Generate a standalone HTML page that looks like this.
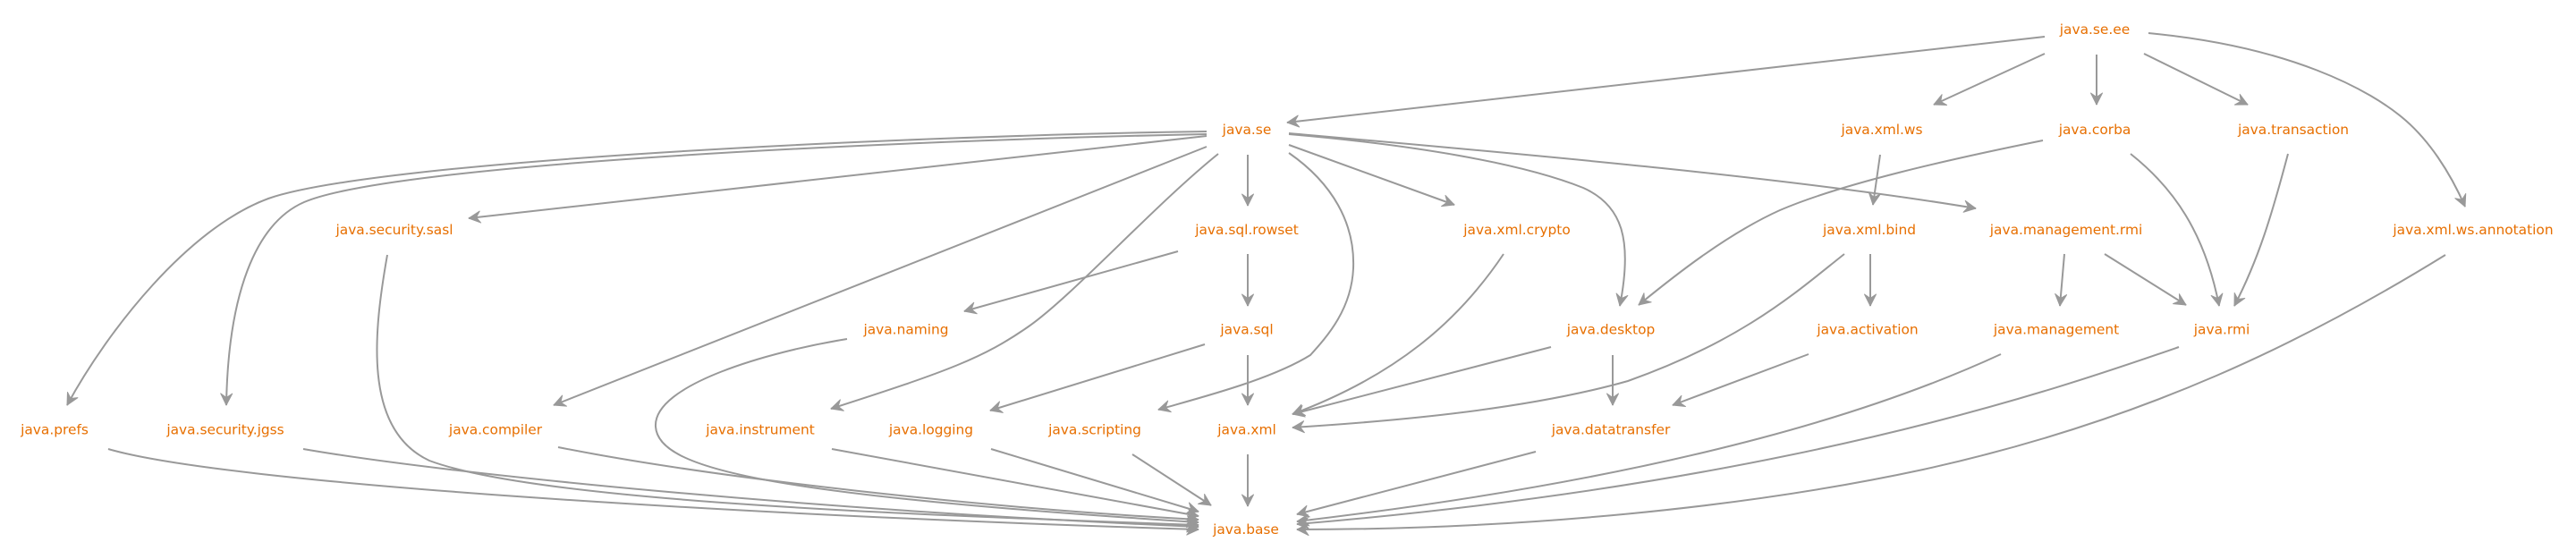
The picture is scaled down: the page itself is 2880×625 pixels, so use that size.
<!DOCTYPE html>
<html>
<head>
<meta charset="utf-8">
<style>
  html, body { margin: 0; padding: 0; background: #ffffff; }
  body { width: 2880px; height: 625px; overflow: hidden; }
  svg { display: block; }
  .e { fill: none; stroke: #999999; stroke-width: 2; marker-end: url(#arr); }
  text { font-family: "DejaVu Sans", "Liberation Sans", sans-serif; font-size: 15.4px; fill: #e76f00; text-anchor: middle; }
</style>
</head>
<body>
<svg width="2880" height="625" viewBox="0 0 2880 625" xmlns="http://www.w3.org/2000/svg">
  <defs>
    <marker id="arr" markerUnits="userSpaceOnUse" markerWidth="20" markerHeight="20" viewBox="-15 -10 20 20" refX="0" refY="0" orient="auto">
      <path d="M0,0 L-13,-6.5 L-8.5,0 L-13,6.5 Z" fill="#999999" stroke="#999999" stroke-width="1" stroke-linejoin="round"/>
    </marker>
  </defs>

  <!-- edges -->
  <path class="e" d="M2286,41 L1439,137"/>
  <path class="e" d="M2286,60 L2162,117"/>
  <path class="e" d="M2344,61 L2344,117"/>
  <path class="e" d="M2397,60 L2513,117"/>
  <path class="e" d="M2402,37 C2560,52 2650,100 2690,135 C2715,157 2738,190 2756,231"/>
  <path class="e" d="M2102,173 L2094,229"/>
  <path class="e" d="M2284,157 C2180,178 2060,205 1990,235 C1930,262 1870,310 1832,341"/>
  <path class="e" d="M2382,172 C2430,210 2465,260 2481,342"/>
  <path class="e" d="M2558,172 C2540,240 2525,290 2498,342"/>
  <path class="e" d="M1349,152 L524,244"/>
  <path class="e" d="M1349,147 C1000,152 420,180 300,222 C210,255 120,370 75,453"/>
  <path class="e" d="M1349,150 C1000,157 440,183 340,226 C285,250 255,330 253,453"/>
  <path class="e" d="M1349,164 C1200,225 800,380 619,453"/>
  <path class="e" d="M1362,172 C1290,230 1200,330 1150,365 C1100,400 1060,415 929,457"/>
  <path class="e" d="M1395,173 L1395,230"/>
  <path class="e" d="M1441,162 L1626,229"/>
  <path class="e" d="M1441,171 C1490,205 1515,250 1513,300 C1511,345 1485,375 1465,397 C1420,425 1340,445 1295,458"/>
  <path class="e" d="M1441,150 C1580,162 1700,182 1770,210 C1815,230 1825,270 1811,342"/>
  <path class="e" d="M1441,149 C1700,172 2000,198 2209,233"/>
  <path class="e" d="M433,285 C418,370 405,480 480,515 C600,560 1000,575 1340,587"/>
  <path class="e" d="M339,502 C500,530 900,570 1340,589"/>
  <path class="e" d="M121,502 C250,540 800,575 1340,592"/>
  <path class="e" d="M624,500 C800,535 1100,568 1340,581"/>
  <path class="e" d="M947,379 C860,393 730,430 733,477 C736,525 860,553 1340,584"/>
  <path class="e" d="M930,502 L1340,577"/>
  <path class="e" d="M1108,502 L1340,572"/>
  <path class="e" d="M1266,508 L1354,565"/>
  <path class="e" d="M1395,508 L1395,566"/>
  <path class="e" d="M1717,505 L1450,575"/>
  <path class="e" d="M2237,396 C2120,450 1900,530 1450,583"/>
  <path class="e" d="M2436,388 C2300,435 2000,540 1450,586"/>
  <path class="e" d="M2734,285 C2580,380 2400,470 2150,525 C1950,568 1700,592 1450,592"/>
  <path class="e" d="M1681,284 C1630,360 1560,420 1445,463"/>
  <path class="e" d="M1734,388 L1445,463"/>
  <path class="e" d="M2062,284 C2010,325 1950,380 1820,426 C1700,460 1540,472 1445,478"/>
  <path class="e" d="M2022,396 L1870,453"/>
  <path class="e" d="M1803,397 L1803,453"/>
  <path class="e" d="M2308,284 L2303,342"/>
  <path class="e" d="M2353,284 L2444,341"/>
  <path class="e" d="M2091,284 L2091,342"/>
  <path class="e" d="M1395,284 L1395,342"/>
  <path class="e" d="M1395,397 L1395,453"/>
  <path class="e" d="M1317,281 L1078,348"/>
  <path class="e" d="M1347,385 L1107,459"/>

  <!-- nodes -->
  <text x="2342" y="38">java.se.ee</text>

  <text x="1394" y="150">java.se</text>
  <text x="2104" y="150">java.xml.ws</text>
  <text x="2342" y="150">java.corba</text>
  <text x="2564" y="150">java.transaction</text>

  <text x="441" y="262">java.security.sasl</text>
  <text x="1394" y="262">java.sql.rowset</text>
  <text x="1696" y="262">java.xml.crypto</text>
  <text x="2090" y="262">java.xml.bind</text>
  <text x="2310" y="262">java.management.rmi</text>
  <text x="2765" y="262">java.xml.ws.annotation</text>

  <text x="1013" y="373.5">java.naming</text>
  <text x="1394" y="373.5">java.sql</text>
  <text x="1801" y="373.5">java.desktop</text>
  <text x="2088" y="373.5">java.activation</text>
  <text x="2299" y="373.5">java.management</text>
  <text x="2484" y="373.5">java.rmi</text>

  <text x="61" y="485.5">java.prefs</text>
  <text x="252" y="485.5">java.security.jgss</text>
  <text x="554" y="485.5">java.compiler</text>
  <text x="850" y="485.5">java.instrument</text>
  <text x="1041" y="485.5">java.logging</text>
  <text x="1224" y="485.5">java.scripting</text>
  <text x="1394" y="485.5">java.xml</text>
  <text x="1801" y="485.5">java.datatransfer</text>

  <text x="1393" y="597">java.base</text>
</svg>
</body>
</html>
